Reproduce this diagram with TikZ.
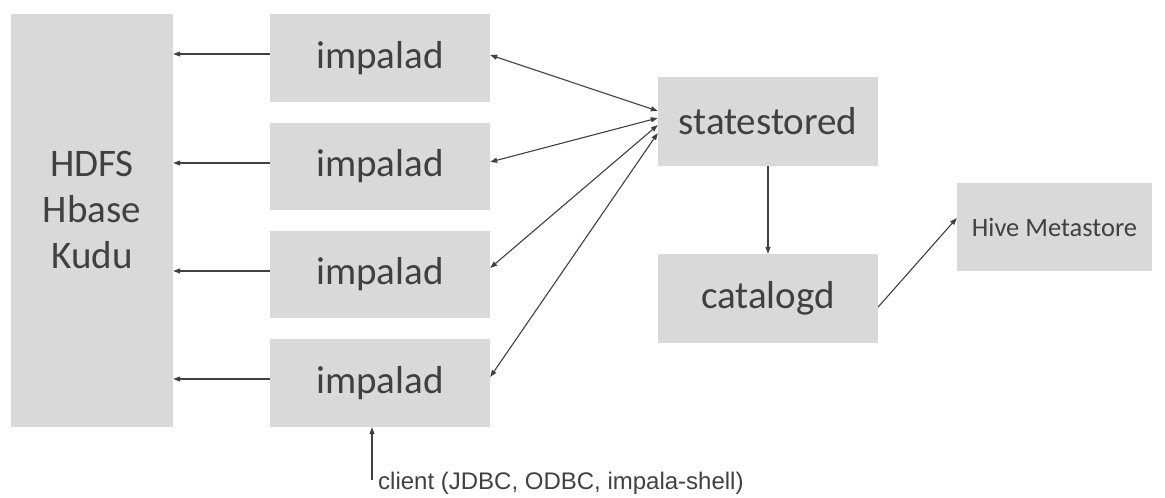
\documentclass[tikz,border=0pt]{standalone}
\usepackage{fontspec}
\setmainfont{Carlito}
\newfontfamily\arialfont{Liberation Sans}
\usetikzlibrary{arrows.meta}
\definecolor{boxgray}{HTML}{D9D9D9}
\definecolor{txtgray}{HTML}{404040}
\definecolor{arrgray}{HTML}{404040}
\tikzset{
  box/.style={draw=none, fill=boxgray, inner sep=0pt, text=txtgray, font=\fontsize{39}{46}\selectfont},
  conn/.style={draw=arrgray, line width=1.1pt, -{Triangle[length=7pt,width=5pt]}},
  dconn/.style={draw=arrgray, line width=1.1pt, {Triangle[length=7pt,width=5pt]}-{Triangle[length=7pt,width=5pt]}}
}
\begin{document}
\begin{tikzpicture}[x=1pt,y=-1pt]
\useasboundingbox (0,0) rectangle (1165,498);
% boxes
\node[box, minimum width=162pt, minimum height=413pt] (hdfs) at (92,220.5) {};
\node[text=txtgray, font=\fontsize{39}{46}\selectfont, align=center, inner sep=0pt] (hdfslabel) at (92,210) {HDFS\\Hbase\\Kudu};
\node[box, minimum width=220pt, minimum height=88pt] (imp1) at (380,58) {impalad};
\node[box, minimum width=220pt, minimum height=87pt] (imp2) at (380,166.5) {impalad};
\node[box, minimum width=220pt, minimum height=87pt] (imp3) at (380,274.5) {impalad};
\node[box, minimum width=220pt, minimum height=88pt] (imp4) at (380,383) {impalad};
\node[box, minimum width=220pt, minimum height=89pt] (ss) at (768,121.5) {statestored};
\node[box, minimum width=220pt, minimum height=89pt] (cat) at (768,298.5) {catalogd};
\node[box, minimum width=195pt, minimum height=88pt, font=\fontsize{26.5}{30}\selectfont] (hive) at (1054.5,227) {Hive Metastore};
% impalad -> HDFS
\coordinate (i1w) at ([yshift=4pt]imp1.west);
\coordinate (i2w) at ([yshift=3.5pt]imp2.west);
\coordinate (i3w) at ([yshift=3.5pt]imp3.west);
\coordinate (i4w) at ([yshift=4pt]imp4.west);
\draw[conn] (i1w) -- (i1w -| hdfs.east);
\draw[conn] (i2w) -- (i2w -| hdfs.east);
\draw[conn] (i3w) -- (i3w -| hdfs.east);
\draw[conn] (i4w) -- (i4w -| hdfs.east);
% impalad <-> statestored
\draw[dconn] ([yshift=3pt]imp1.east) -- ([yshift=10.5pt]ss.west);
\draw[dconn] ([yshift=4.5pt]imp2.east) -- ([yshift=3.5pt]ss.west);
\draw[dconn] ([yshift=6.5pt]imp3.east) -- ([yshift=-3.5pt]ss.west);
\draw[dconn] ([yshift=6pt]imp4.east) -- ([yshift=-11.5pt]ss.west);
% statestored -> catalogd -> hive
\draw[conn] (ss.south) -- (cat.north);
\draw[conn] ([yshift=-8.5pt]cat.east) -- ([yshift=9pt]hive.west);
% client
\coordinate (clientend) at (372,480);
\draw[conn] (clientend) -- (clientend |- imp4.south);
\node[anchor=base west, inner sep=0pt, text=txtgray, font=\arialfont\fontsize{24}{28}\selectfont] (client) at (378,489) {client (JDBC, ODBC, impala-shell)};
\end{tikzpicture}
\end{document}
